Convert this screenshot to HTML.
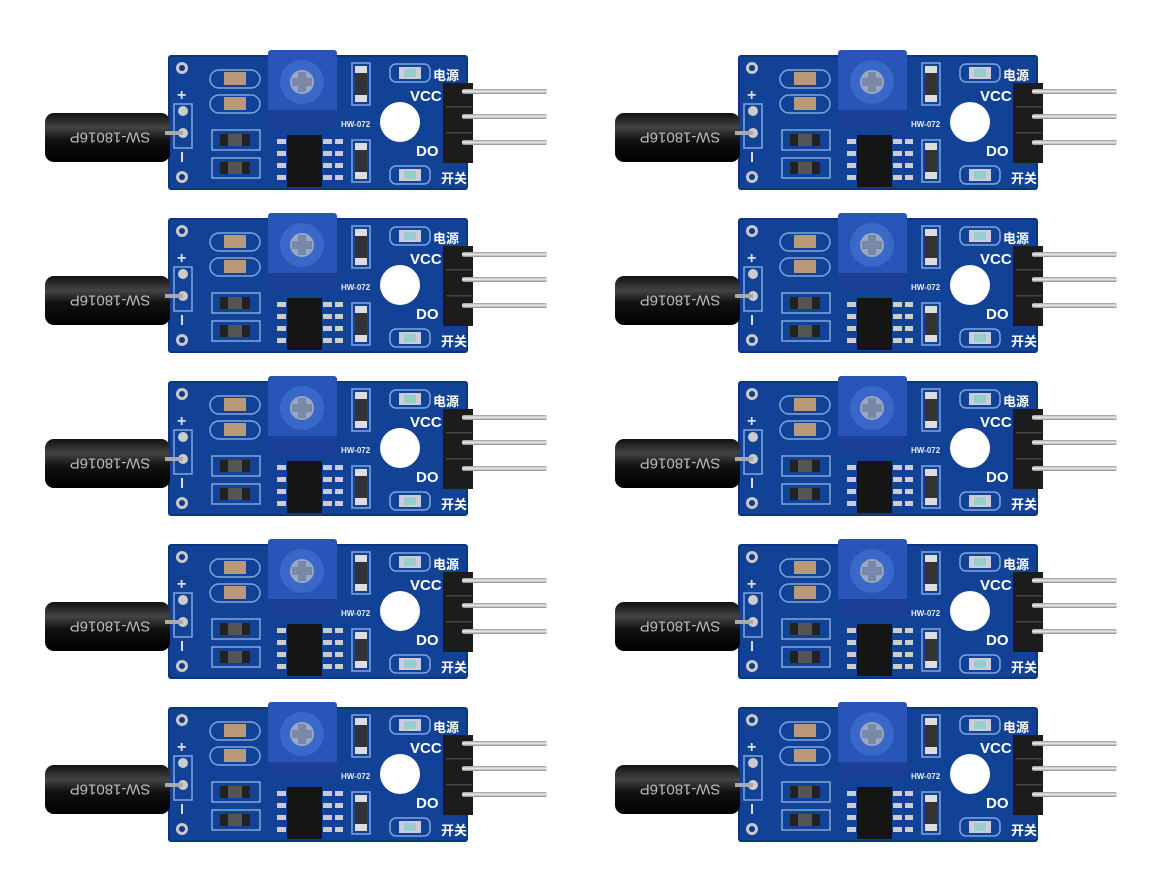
<!DOCTYPE html>
<html><head><meta charset="utf-8"><style>
html,body{margin:0;padding:0;background:#fff;}
svg{display:block;}
</style></head><body>
<svg id="s" width="1172" height="878" viewBox="0 0 1172 878" xmlns="http://www.w3.org/2000/svg">
<defs>
<linearGradient id="cyl" x1="0" y1="0" x2="0" y2="1">
<stop offset="0" stop-color="#111"/><stop offset="0.3" stop-color="#444"/><stop offset="0.55" stop-color="#111"/><stop offset="1" stop-color="#000"/>
</linearGradient>
<linearGradient id="pin" x1="0" y1="0" x2="0" y2="1">
<stop offset="0" stop-color="#999"/><stop offset="0.5" stop-color="#eee"/><stop offset="1" stop-color="#888"/>
</linearGradient>
</defs>
<g id="root"></g>
</svg>
<script>
var m = `
<rect x="168" y="55" width="300" height="135" rx="3" fill="#0b3580"/>
<rect x="170" y="57" width="296" height="131" fill="#124296"/>
<circle cx="182" cy="68" r="6" fill="#c8c8c8"/><circle cx="182" cy="68" r="3" fill="#0d3a8c"/>
<circle cx="182" cy="177" r="6" fill="#c8c8c8"/><circle cx="182" cy="177" r="3" fill="#0d3a8c"/>
<rect x="174" y="104" width="18" height="44" fill="none" stroke="#7fa6e0" stroke-width="1.5"/>
<circle cx="183" cy="111" r="5" fill="#ccc"/><circle cx="183" cy="133" r="5" fill="#ccc"/>
<text x="177" y="100" font-family="Liberation Sans" font-size="16" font-weight="bold" fill="#dde">+</text>
<rect x="181" y="152" width="2" height="10" fill="#dde"/>
<rect x="45" y="113" width="125" height="49" rx="9" fill="url(#cyl)"/>
<rect x="165" y="131" width="18" height="4" fill="#aaa"/>
<text x="110" y="137" text-anchor="middle" dominant-baseline="central" font-family="Liberation Sans" font-size="15" fill="#bbb" transform="rotate(180 110 137)">SW-18016P</text>
<rect x="210" y="70" width="50" height="18" rx="9" fill="none" stroke="#7fa6e0" stroke-width="1.5"/>
<rect x="224" y="72" width="22" height="13" fill="#b89a7a"/>
<rect x="210" y="95" width="50" height="18" rx="9" fill="none" stroke="#7fa6e0" stroke-width="1.5"/>
<rect x="224" y="97" width="22" height="13" fill="#b89a7a"/>
<rect x="212" y="130" width="48" height="20" fill="none" stroke="#7fa6e0" stroke-width="1.5"/>
<rect x="220" y="134" width="30" height="12" fill="#222"/><rect x="228" y="134" width="14" height="12" fill="#555"/>
<rect x="212" y="158" width="48" height="20" fill="none" stroke="#7fa6e0" stroke-width="1.5"/>
<rect x="220" y="162" width="30" height="12" fill="#222"/><rect x="228" y="162" width="14" height="12" fill="#555"/>
<rect x="268" y="50" width="69" height="78" rx="3" fill="#2a55b8"/>
<rect x="268" y="110" width="69" height="18" fill="#1b3f96"/>
<circle cx="302" cy="82" r="22" fill="#3a68c8"/>
<circle cx="302" cy="82" r="12" fill="#9aa8c4"/>
<rect x="298" y="72" width="8" height="20" fill="#7a88a8"/><rect x="292" y="78" width="20" height="8" fill="#7a88a8"/>
<rect x="287" y="135" width="35" height="52" fill="#151515"/>
<g fill="#ccc"><rect x="277" y="139" width="9" height="5"/><rect x="277" y="151" width="9" height="5"/><rect x="277" y="163" width="9" height="5"/><rect x="277" y="175" width="9" height="5"/>
<rect x="323" y="139" width="9" height="5"/><rect x="323" y="151" width="9" height="5"/><rect x="323" y="163" width="9" height="5"/><rect x="323" y="175" width="9" height="5"/>
<rect x="335" y="139" width="8" height="5"/><rect x="335" y="151" width="8" height="5"/><rect x="335" y="163" width="8" height="5"/><rect x="335" y="175" width="8" height="5"/></g>
<rect x="352" y="63" width="18" height="42" fill="none" stroke="#7fa6e0" stroke-width="1.5"/>
<rect x="355" y="66" width="12" height="36" fill="#ddd"/><rect x="355" y="73" width="12" height="22" fill="#333"/>
<rect x="352" y="140" width="18" height="42" fill="none" stroke="#7fa6e0" stroke-width="1.5"/>
<rect x="355" y="143" width="12" height="36" fill="#ddd"/><rect x="355" y="150" width="12" height="22" fill="#333"/>
<text x="341" y="127" font-family="Liberation Sans" font-size="8" font-weight="bold" fill="#e6ecff">HW-072</text>
<circle cx="400" cy="122" r="20" fill="#fff"/>
<rect x="390" y="64" width="40" height="18" rx="6" fill="none" stroke="#7fa6e0" stroke-width="1.5"/>
<rect x="399" y="67" width="22" height="12" fill="#ccd"/><rect x="404" y="69" width="12" height="8" fill="#9cc"/>
<rect x="390" y="166" width="40" height="18" rx="6" fill="none" stroke="#7fa6e0" stroke-width="1.5"/>
<rect x="399" y="169" width="22" height="12" fill="#ccd"/><rect x="404" y="171" width="12" height="8" fill="#9cc"/>
<text x="433" y="80" font-family="Liberation Sans, Noto Sans CJK SC, sans-serif" font-size="13" font-weight="bold" fill="#fff">电源</text>
<text x="410" y="101" font-family="Liberation Sans" font-size="15" font-weight="bold" fill="#fff">VCC</text>
<text x="416" y="156" font-family="Liberation Sans" font-size="15" font-weight="bold" fill="#fff">DO</text>
<text x="441" y="183" font-family="Liberation Sans, Noto Sans CJK SC, sans-serif" font-size="13" font-weight="bold" fill="#fff">开关</text>
<rect x="443" y="83" width="30" height="80" fill="#1c1c1c"/>
<rect x="446" y="106" width="26" height="1.5" fill="#444"/><rect x="446" y="132" width="26" height="1.5" fill="#444"/>
<rect x="462" y="89" width="85" height="5" rx="2" fill="url(#pin)"/>
<rect x="462" y="114" width="85" height="5" rx="2" fill="url(#pin)"/>
<rect x="462" y="140" width="85" height="5" rx="2" fill="url(#pin)"/>
`;
var h='';var ys=[0,163,326,489,652];var xs=[0,570];
ys.forEach(function(y){xs.forEach(function(x){h+='<g transform="translate('+x+','+y+')">'+m+'</g>';});});
document.getElementById('root').innerHTML=h;
</script>
</body></html>
